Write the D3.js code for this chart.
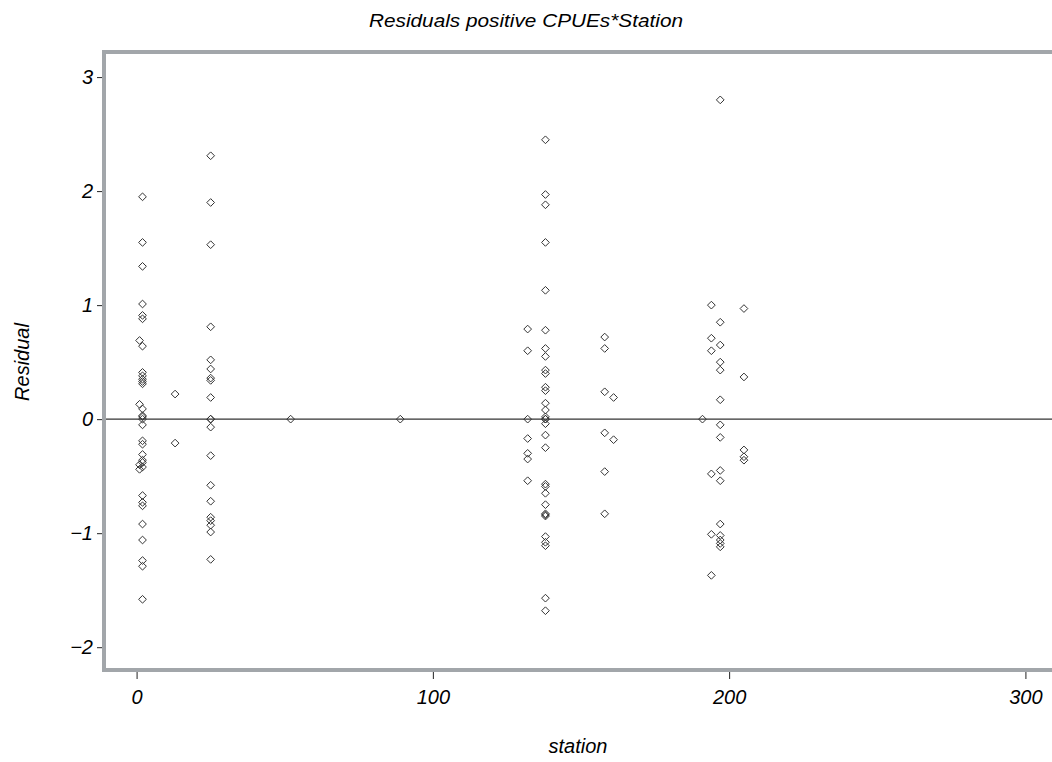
<!DOCTYPE html>
<html>
<head>
<meta charset="utf-8">
<script src="https://cdn.jsdelivr.net/npm/d3@7"></script>
<style>
  body { margin: 0; background: white; }
  text { font-family: "Liberation Sans Narrow", "Liberation Sans", Arial, sans-serif; font-style: italic; fill: #000; }
</style>
</head>
<body>
<script>
const width = 1052, height = 762;

// station numbers and the residuals read at each one
const stations = [1, 2, 13, 25, 52, 89, 132, 138, 158, 161, 191, 194, 197, 205];
const residuals = [
  [0.69, 0.13, -0.40, -0.44],
  [1.95, 1.55, 1.34, 1.01, 0.91, 0.88, 0.64, 0.41, 0.38, 0.35, 0.33, 0.31, 0.09, 0.03, 0.02, 0.0,
   -0.05, -0.19, -0.22, -0.31, -0.36, -0.38, -0.42, -0.67, -0.73, -0.76, -0.92, -1.06, -1.24, -1.29, -1.58],
  [0.22, -0.21],
  [2.31, 1.90, 1.53, 0.81, 0.52, 0.44, 0.36, 0.34, 0.19, 0.0, 0.0, -0.07, -0.32, -0.58, -0.72,
   -0.86, -0.89, -0.93, -0.99, -1.23],
  [0.0],
  [0.0],
  [0.79, 0.60, 0.0, -0.17, -0.30, -0.35, -0.54],
  [2.45, 1.97, 1.88, 1.55, 1.13, 0.78, 0.62, 0.55, 0.43, 0.40, 0.28, 0.25, 0.14, 0.08, 0.02, 0.0, 0.0,
   -0.04, -0.14, -0.25, -0.57, -0.59, -0.65, -0.75, -0.83, -0.84, -0.85, -1.03, -1.08, -1.11, -1.57, -1.68],
  [0.72, 0.62, 0.24, -0.12, -0.46, -0.83],
  [0.19, -0.18],
  [0.0],
  [1.00, 0.71, 0.60, -0.48, -1.01, -1.37],
  [2.80, 0.85, 0.65, 0.50, 0.43, 0.17, -0.05, -0.16, -0.45, -0.54, -0.92, -1.02, -1.06, -1.09, -1.12],
  [0.97, 0.37, -0.27, -0.33, -0.36]
];

const xTicks = [0, 100, 200, 300];
const yTicks = [-2, -1, 0, 1, 2, 3];

const points = [];
stations.forEach((s, i) => residuals[i].forEach(r => points.push({station: s, residual: r})));

const margin = {top: 52, right: -6, bottom: 92, left: 104};

const svg = d3.select("body").append("svg")
    .attr("width", width)
    .attr("height", height);

svg.append("rect")
    .attr("width", width)
    .attr("height", height)
    .attr("fill", "white");

const x = d3.scaleLinear()
    .domain([-11, 311])
    .range([margin.left, width - margin.right]);

const y = d3.scaleLinear()
    .domain([-2.2, 3.22])
    .range([height - margin.bottom, margin.top]);

// x axis
const xAxis = svg.append("g")
    .attr("transform", `translate(0,${height - margin.bottom + 2})`)
    .call(d3.axisBottom(x).tickValues(xTicks).tickSize(7).tickPadding(11).tickFormat(d3.format("d")));
xAxis.select(".domain").remove();
xAxis.selectAll("text").style("font-size", "20px").style("font-family", null);
xAxis.selectAll("line").attr("stroke", "#222");

// y axis
const yAxis = svg.append("g")
    .attr("transform", `translate(${margin.left - 2},0)`)
    .call(d3.axisLeft(y).tickValues(yTicks).tickSize(5).tickPadding(4).tickFormat(d => d < 0 ? "\u2212" + Math.abs(d) : d));
yAxis.select(".domain").remove();
yAxis.selectAll("text").style("font-size", "20px").style("font-family", null);
yAxis.selectAll("line").attr("stroke", "#222");

// reference line at zero
svg.append("line")
    .attr("x1", x(-11)).attr("x2", x(311))
    .attr("y1", y(0)).attr("y2", y(0))
    .attr("stroke", "#333")
    .attr("stroke-width", 1.2);

// diamonds
const diamond = d3.symbol().type(d3.symbolDiamond2).size(38);
svg.append("g")
  .selectAll("path")
  .data(points)
  .enter().append("path")
    .attr("d", diamond)
    .attr("transform", d => `translate(${x(d.station)},${y(d.residual)})`)
    .attr("fill", "none")
    .attr("stroke", "#333")
    .attr("stroke-width", 1);

// frame
svg.append("rect")
    .attr("x", margin.left)
    .attr("y", margin.top)
    .attr("width", width - margin.right - margin.left)
    .attr("height", height - margin.bottom - margin.top)
    .attr("fill", "none")
    .attr("stroke", "#a2a6aa")
    .attr("stroke-width", 4);

// titles
svg.append("text")
    .attr("x", width / 2)
    .attr("y", 27)
    .attr("text-anchor", "middle")
    .attr("textLength", 314)
    .attr("lengthAdjust", "spacingAndGlyphs")
    .style("font-size", "19px")
    .text("Residuals positive CPUEs*Station");

svg.append("text")
    .attr("x", (margin.left + width) / 2)
    .attr("y", 753)
    .attr("text-anchor", "middle")
    .style("font-size", "20px")
    .text("station");

svg.append("text")
    .attr("transform", `translate(29,362) rotate(-90)`)
    .attr("text-anchor", "middle")
    .style("font-size", "20px")
    .text("Residual");
</script>
</body>
</html>
